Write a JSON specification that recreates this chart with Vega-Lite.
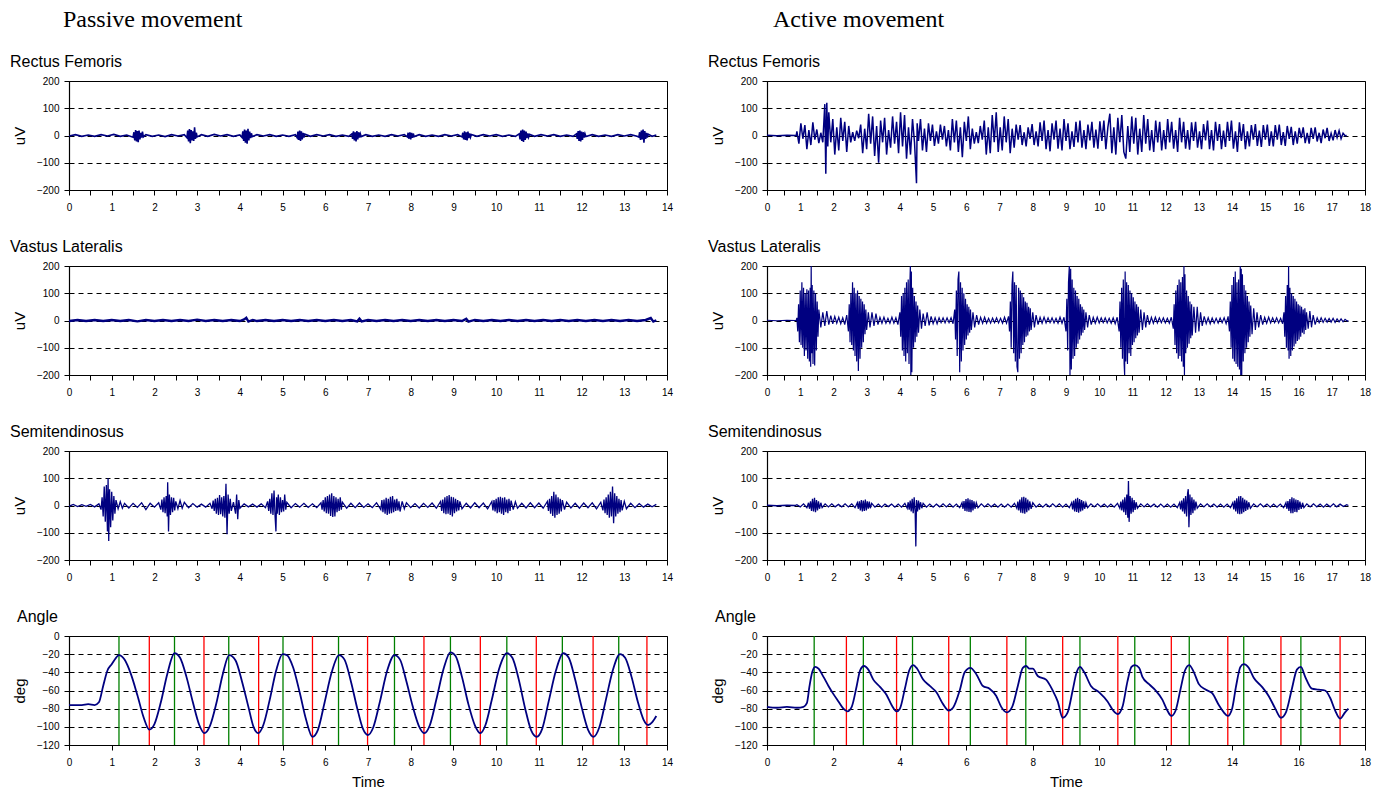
{
"$schema":"https://vega.github.io/schema/vega-lite/v6.json",
"padding":{"left":9,"top":7,"right":5,"bottom":0},
"background":"#ffffff",
"config":{
"font":"Liberation Sans",
"view":{"stroke":"#000000","strokeWidth":1},
"axis":{"domainColor":"#000000","domainWidth":1.2,"tickColor":"#000000","tickSize":5,"tickWidth":1,"labelColor":"#000000","labelFont":"Liberation Sans","labelFontSize":10,"titleFont":"Liberation Sans","titleFontSize":15,"titleFontWeight":"normal","titleColor":"#000000","gridColor":"#000000","gridDash":[5,4],"gridOpacity":1,"gridWidth":1},
"axisX":{"grid":false,"labelPadding":7,"labelFlush":false,"labelOverlap":false,"titlePadding":7},
"axisY":{"labelPadding":5,"titlePadding":9}
},
"spacing":33,
"hconcat":[
{"title":{"text":"Passive movement","anchor":"start","frame":"group","font":"Liberation Serif","fontSize":24,"fontWeight":"normal","color":"#000000","dx":-6,"offset":22},
"spacing":25,
"vconcat":[
{"title":{"text":"Rectus Femoris","anchor":"start","frame":"group","dx":-59,"fontSize":16,"font":"Liberation Sans","fontWeight":"normal","baseline":"alphabetic","offset":-7,"color":"#000000"},
"width":598,"height":109,
"data":{"values":[{"t":0,"v":-2},{"t":0.15,"v":3},{"t":0.3,"v":-3},{"t":0.45,"v":2},{"t":0.6,"v":-3},{"t":0.75,"v":3},{"t":0.9,"v":-2},{"t":1.05,"v":4},{"t":1.2,"v":-3},{"t":1.35,"v":2},
{"t":1.5,"v":-6},{"t":1.52,"v":12},{"t":1.54,"v":-18},{"t":1.56,"v":20},{"t":1.58,"v":-22},{"t":1.6,"v":16},{"t":1.62,"v":-25},{"t":1.64,"v":18},{"t":1.66,"v":-14},{"t":1.68,"v":10},{"t":1.7,"v":-8},{"t":1.72,"v":14},{"t":1.74,"v":-5},
{"t":1.8,"v":3},{"t":1.95,"v":-3},{"t":2.1,"v":2},{"t":2.25,"v":-4},{"t":2.4,"v":3},{"t":2.55,"v":-2},{"t":2.7,"v":3},
{"t":2.76,"v":-8},{"t":2.78,"v":18},{"t":2.8,"v":-22},{"t":2.82,"v":24},{"t":2.84,"v":-28},{"t":2.86,"v":20},{"t":2.88,"v":-18},{"t":2.9,"v":15},{"t":2.92,"v":-20},{"t":2.94,"v":30},{"t":2.96,"v":-12},{"t":2.98,"v":10},{"t":3.0,"v":-5},
{"t":3.1,"v":3},{"t":3.25,"v":-3},{"t":3.4,"v":4},{"t":3.55,"v":-2},{"t":3.7,"v":3},{"t":3.85,"v":-3},{"t":4.0,"v":2},
{"t":4.05,"v":-7},{"t":4.07,"v":15},{"t":4.09,"v":-20},{"t":4.11,"v":22},{"t":4.13,"v":-26},{"t":4.15,"v":18},{"t":4.17,"v":-30},{"t":4.19,"v":25},{"t":4.21,"v":-18},{"t":4.23,"v":14},{"t":4.25,"v":-10},{"t":4.27,"v":8},{"t":4.29,"v":-4},
{"t":4.4,"v":3},{"t":4.55,"v":-2},{"t":4.7,"v":3},{"t":4.85,"v":-3},{"t":5.0,"v":2},{"t":5.15,"v":-3},{"t":5.3,"v":3},
{"t":5.34,"v":-8},{"t":5.36,"v":14},{"t":5.38,"v":-16},{"t":5.4,"v":18},{"t":5.42,"v":-20},{"t":5.44,"v":15},{"t":5.46,"v":-14},{"t":5.48,"v":10},{"t":5.5,"v":-8},{"t":5.52,"v":5},
{"t":5.65,"v":-3},{"t":5.8,"v":3},{"t":5.95,"v":-2},{"t":6.1,"v":3},{"t":6.25,"v":-3},{"t":6.4,"v":2},{"t":6.55,"v":-3},
{"t":6.62,"v":6},{"t":6.64,"v":-12},{"t":6.66,"v":15},{"t":6.68,"v":-18},{"t":6.7,"v":12},{"t":6.72,"v":-22},{"t":6.74,"v":16},{"t":6.76,"v":-14},{"t":6.78,"v":12},{"t":6.8,"v":-8},{"t":6.82,"v":6},{"t":6.84,"v":-4},
{"t":6.95,"v":3},{"t":7.1,"v":-3},{"t":7.25,"v":2},{"t":7.4,"v":-3},{"t":7.55,"v":3},{"t":7.7,"v":-2},{"t":7.85,"v":3},
{"t":7.92,"v":-5},{"t":7.94,"v":10},{"t":7.96,"v":-12},{"t":7.98,"v":12},{"t":8.0,"v":-14},{"t":8.02,"v":10},{"t":8.04,"v":-9},{"t":8.06,"v":7},{"t":8.08,"v":-4},
{"t":8.2,"v":3},{"t":8.35,"v":-3},{"t":8.5,"v":2},{"t":8.65,"v":-3},{"t":8.8,"v":3},{"t":8.95,"v":-2},{"t":9.1,"v":3},
{"t":9.2,"v":-5},{"t":9.22,"v":10},{"t":9.24,"v":-14},{"t":9.26,"v":15},{"t":9.28,"v":-16},{"t":9.3,"v":12},{"t":9.32,"v":-18},{"t":9.34,"v":14},{"t":9.36,"v":-10},{"t":9.38,"v":8},{"t":9.4,"v":-6},{"t":9.42,"v":4},
{"t":9.55,"v":-3},{"t":9.7,"v":3},{"t":9.85,"v":-2},{"t":10.0,"v":3},{"t":10.15,"v":-3},{"t":10.3,"v":2},{"t":10.45,"v":-3},
{"t":10.54,"v":6},{"t":10.56,"v":-14},{"t":10.58,"v":18},{"t":10.6,"v":-20},{"t":10.62,"v":22},{"t":10.64,"v":-24},{"t":10.66,"v":18},{"t":10.68,"v":-16},{"t":10.7,"v":14},{"t":10.72,"v":-10},{"t":10.74,"v":8},{"t":10.76,"v":-6},{"t":10.78,"v":4},
{"t":10.9,"v":-3},{"t":11.05,"v":3},{"t":11.2,"v":-2},{"t":11.35,"v":3},{"t":11.5,"v":-3},{"t":11.65,"v":2},{"t":11.8,"v":-3},
{"t":11.88,"v":6},{"t":11.9,"v":-12},{"t":11.92,"v":16},{"t":11.94,"v":-20},{"t":11.96,"v":18},{"t":11.98,"v":-22},{"t":12.0,"v":14},{"t":12.02,"v":-16},{"t":12.04,"v":12},{"t":12.06,"v":-8},{"t":12.08,"v":6},{"t":12.1,"v":-4},
{"t":12.25,"v":3},{"t":12.4,"v":-3},{"t":12.55,"v":2},{"t":12.7,"v":-3},{"t":12.85,"v":3},{"t":13.0,"v":-2},{"t":13.15,"v":3},{"t":13.3,"v":-3},
{"t":13.34,"v":-6},{"t":13.36,"v":12},{"t":13.38,"v":-16},{"t":13.4,"v":18},{"t":13.42,"v":-14},{"t":13.44,"v":22},{"t":13.46,"v":-26},{"t":13.48,"v":16},{"t":13.5,"v":-12},{"t":13.52,"v":10},{"t":13.54,"v":-8},{"t":13.56,"v":5},
{"t":13.65,"v":-3},{"t":13.75,"v":2}]},
"mark":{"type":"line","color":"#000080","strokeWidth":1.6,"clip":true},
"encoding":{"x":{"field":"t","type":"quantitative","scale":{"domain":[0,14],"nice":false},"axis":{"title":null,"values":[0,0.5,1,1.5,2,2.5,3,3.5,4,4.5,5,5.5,6,6.5,7,7.5,8,8.5,9,9.5,10,10.5,11,11.5,12,12.5,13,13.5,14],"labelExpr":"datum.value % 1 === 0 ? format(datum.value, 'd') : ''"}},
"y":{"field":"v","type":"quantitative","scale":{"domain":[-200,200],"nice":false},"axis":{"title":"uV","values":[-200,-100,0,100,200]}}}},
{"title":{"text":"Vastus Lateralis","anchor":"start","frame":"group","dx":-59,"fontSize":16,"font":"Liberation Sans","fontWeight":"normal","baseline":"alphabetic","offset":-7,"color":"#000000"},
"width":598,"height":109,
"data":{"values":[{"t":0,"v":-2},{"t":0.2,"v":2},{"t":0.4,"v":-2},{"t":0.6,"v":2},{"t":0.8,"v":-2},{"t":1.0,"v":2},{"t":1.2,"v":-2},{"t":1.4,"v":2},{"t":1.6,"v":-3},{"t":1.8,"v":2},{"t":2.0,"v":-2},{"t":2.2,"v":2},{"t":2.4,"v":-2},{"t":2.6,"v":2},{"t":2.8,"v":-2},{"t":3.0,"v":3},{"t":3.2,"v":-2},{"t":3.4,"v":2},{"t":3.6,"v":-2},{"t":3.8,"v":2},{"t":4.0,"v":-2},{"t":4.1,"v":4},{"t":4.15,"v":10},{"t":4.2,"v":-4},{"t":4.3,"v":2},{"t":4.4,"v":-2},{"t":4.6,"v":2},{"t":4.8,"v":-2},{"t":5.0,"v":2},{"t":5.2,"v":-2},{"t":5.4,"v":2},{"t":5.6,"v":-2},{"t":5.8,"v":2},{"t":6.0,"v":-2},{"t":6.2,"v":2},{"t":6.4,"v":-2},{"t":6.6,"v":2},{"t":6.75,"v":-3},{"t":6.8,"v":7},{"t":6.85,"v":-3},{"t":7.0,"v":2},{"t":7.2,"v":-2},{"t":7.4,"v":2},{"t":7.6,"v":-2},{"t":7.8,"v":2},{"t":8.0,"v":-2},{"t":8.2,"v":2},{"t":8.4,"v":-2},{"t":8.6,"v":2},{"t":8.8,"v":-2},{"t":9.0,"v":2},{"t":9.2,"v":-2},{"t":9.3,"v":6},{"t":9.35,"v":-4},{"t":9.5,"v":2},{"t":9.7,"v":-2},{"t":9.9,"v":2},{"t":10.1,"v":-2},{"t":10.3,"v":2},{"t":10.5,"v":-2},{"t":10.7,"v":2},{"t":10.9,"v":-2},{"t":11.1,"v":2},{"t":11.3,"v":-2},{"t":11.5,"v":2},{"t":11.7,"v":-2},{"t":11.9,"v":2},{"t":12.1,"v":-2},{"t":12.3,"v":2},{"t":12.5,"v":-2},{"t":12.7,"v":2},{"t":12.9,"v":-2},{"t":13.1,"v":2},{"t":13.3,"v":-2},{"t":13.5,"v":2},{"t":13.62,"v":9},{"t":13.68,"v":-4},{"t":13.75,"v":1}]},
"mark":{"type":"line","color":"#000080","strokeWidth":2.4,"clip":true},
"encoding":{"x":{"field":"t","type":"quantitative","scale":{"domain":[0,14],"nice":false},"axis":{"title":null,"values":[0,0.5,1,1.5,2,2.5,3,3.5,4,4.5,5,5.5,6,6.5,7,7.5,8,8.5,9,9.5,10,10.5,11,11.5,12,12.5,13,13.5,14],"labelExpr":"datum.value % 1 === 0 ? format(datum.value, 'd') : ''"}},
"y":{"field":"v","type":"quantitative","scale":{"domain":[-200,200],"nice":false},"axis":{"title":"uV","values":[-200,-100,0,100,200]}}}},
{"title":{"text":"Semitendinosus","anchor":"start","frame":"group","dx":-59,"fontSize":16,"font":"Liberation Sans","fontWeight":"normal","baseline":"alphabetic","offset":-7,"color":"#000000"},
"width":598,"height":109,
"data":{"values":[{"t":0,"v":-3},{"t":0.1,"v":4},{"t":0.2,"v":-4},{"t":0.3,"v":3},{"t":0.4,"v":-3},{"t":0.5,"v":4},{"t":0.6,"v":-5},{"t":0.7,"v":6},
{"t":0.75,"v":-15},{"t":0.775,"v":30},{"t":0.8,"v":-40},{"t":0.825,"v":70},{"t":0.85,"v":-60},{"t":0.875,"v":75},{"t":0.9,"v":-95},{"t":0.915,"v":100},{"t":0.93,"v":-130},{"t":0.95,"v":60},{"t":0.975,"v":-80},{"t":1.0,"v":50},{"t":1.025,"v":-55},{"t":1.05,"v":35},{"t":1.075,"v":-30},{"t":1.1,"v":20},
{"t":1.15,"v":-12},{"t":1.2,"v":14},{"t":1.25,"v":-10},{"t":1.3,"v":8},{"t":1.4,"v":-9},{"t":1.5,"v":8},{"t":1.6,"v":-7},{"t":1.7,"v":10},{"t":1.8,"v":-15},{"t":1.9,"v":8},{"t":2.0,"v":-6},{"t":2.1,"v":10},
{"t":2.15,"v":-15},{"t":2.175,"v":22},{"t":2.2,"v":-25},{"t":2.225,"v":30},{"t":2.25,"v":-28},{"t":2.275,"v":35},{"t":2.3,"v":-40},{"t":2.31,"v":85},{"t":2.33,"v":-95},{"t":2.35,"v":40},{"t":2.375,"v":-35},{"t":2.4,"v":30},{"t":2.425,"v":-25},{"t":2.45,"v":28},{"t":2.475,"v":-18},{"t":2.5,"v":15},
{"t":2.55,"v":-12},{"t":2.6,"v":18},{"t":2.65,"v":-10},{"t":2.7,"v":12},{"t":2.8,"v":-8},{"t":2.9,"v":7},{"t":3.0,"v":-6},{"t":3.1,"v":5},{"t":3.2,"v":-6},{"t":3.3,"v":8},
{"t":3.35,"v":-12},{"t":3.375,"v":18},{"t":3.4,"v":-20},{"t":3.425,"v":25},{"t":3.45,"v":-30},{"t":3.475,"v":28},{"t":3.5,"v":-35},{"t":3.525,"v":38},{"t":3.55,"v":-32},{"t":3.575,"v":30},{"t":3.6,"v":-40},{"t":3.625,"v":35},{"t":3.65,"v":-45},{"t":3.675,"v":80},{"t":3.7,"v":-105},{"t":3.725,"v":40},{"t":3.75,"v":-30},{"t":3.775,"v":25},{"t":3.8,"v":-20},
{"t":3.85,"v":12},{"t":3.9,"v":-30},{"t":3.925,"v":40},{"t":3.95,"v":-50},{"t":3.975,"v":20},{"t":4.0,"v":-10},{"t":4.1,"v":6},{"t":4.2,"v":-5},{"t":4.3,"v":5},{"t":4.4,"v":-6},{"t":4.5,"v":6},{"t":4.6,"v":-8},
{"t":4.65,"v":15},{"t":4.675,"v":-20},{"t":4.7,"v":25},{"t":4.725,"v":-30},{"t":4.75,"v":45},{"t":4.775,"v":-35},{"t":4.8,"v":55},{"t":4.825,"v":-40},{"t":4.845,"v":-95},{"t":4.86,"v":30},{"t":4.875,"v":-30},{"t":4.9,"v":40},{"t":4.925,"v":-35},{"t":4.95,"v":30},{"t":4.975,"v":-25},{"t":5.0,"v":20},{"t":5.025,"v":-22},{"t":5.05,"v":40},{"t":5.075,"v":-15},{"t":5.1,"v":12},
{"t":5.2,"v":-8},{"t":5.3,"v":7},{"t":5.4,"v":-6},{"t":5.5,"v":8},{"t":5.6,"v":-7},{"t":5.7,"v":6},{"t":5.8,"v":-8},
{"t":5.9,"v":10},{"t":5.925,"v":-15},{"t":5.95,"v":20},{"t":5.975,"v":-22},{"t":6.0,"v":30},{"t":6.025,"v":-28},{"t":6.05,"v":35},{"t":6.075,"v":-30},{"t":6.1,"v":40},{"t":6.125,"v":-38},{"t":6.15,"v":45},{"t":6.175,"v":-42},{"t":6.2,"v":35},{"t":6.225,"v":-40},{"t":6.25,"v":30},{"t":6.275,"v":-25},{"t":6.3,"v":25},{"t":6.325,"v":-20},{"t":6.35,"v":30},{"t":6.375,"v":-15},{"t":6.4,"v":12},
{"t":6.5,"v":-10},{"t":6.6,"v":8},{"t":6.7,"v":-8},{"t":6.8,"v":9},{"t":6.9,"v":-7},{"t":7.0,"v":6},{"t":7.1,"v":-8},{"t":7.2,"v":10},
{"t":7.3,"v":-15},{"t":7.325,"v":20},{"t":7.35,"v":-25},{"t":7.375,"v":22},{"t":7.4,"v":-30},{"t":7.425,"v":28},{"t":7.45,"v":-35},{"t":7.475,"v":25},{"t":7.5,"v":-30},{"t":7.525,"v":32},{"t":7.55,"v":-28},{"t":7.575,"v":35},{"t":7.6,"v":-25},{"t":7.625,"v":22},{"t":7.65,"v":-20},{"t":7.675,"v":25},{"t":7.7,"v":-18},{"t":7.725,"v":15},{"t":7.75,"v":-22},{"t":7.8,"v":15},{"t":7.85,"v":-12},{"t":7.9,"v":10},
{"t":8.0,"v":-8},{"t":8.1,"v":7},{"t":8.2,"v":-9},{"t":8.3,"v":8},{"t":8.4,"v":-7},{"t":8.5,"v":9},{"t":8.6,"v":-10},
{"t":8.7,"v":15},{"t":8.725,"v":-20},{"t":8.75,"v":22},{"t":8.775,"v":-28},{"t":8.8,"v":30},{"t":8.825,"v":-32},{"t":8.85,"v":35},{"t":8.875,"v":-30},{"t":8.9,"v":38},{"t":8.925,"v":-35},{"t":8.95,"v":32},{"t":8.975,"v":-40},{"t":9.0,"v":30},{"t":9.025,"v":-28},{"t":9.05,"v":25},{"t":9.075,"v":-22},{"t":9.1,"v":20},{"t":9.125,"v":-18},{"t":9.15,"v":15},{"t":9.2,"v":-12},
{"t":9.3,"v":8},{"t":9.4,"v":-9},{"t":9.5,"v":10},{"t":9.6,"v":-8},{"t":9.7,"v":9},{"t":9.8,"v":-12},
{"t":9.9,"v":15},{"t":9.925,"v":-18},{"t":9.95,"v":20},{"t":9.975,"v":-22},{"t":10.0,"v":25},{"t":10.025,"v":-28},{"t":10.05,"v":30},{"t":10.075,"v":-25},{"t":10.1,"v":32},{"t":10.125,"v":-30},{"t":10.15,"v":28},{"t":10.175,"v":-35},{"t":10.2,"v":30},{"t":10.225,"v":-25},{"t":10.25,"v":22},{"t":10.275,"v":-28},{"t":10.3,"v":25},{"t":10.325,"v":-20},{"t":10.35,"v":18},{"t":10.4,"v":-15},{"t":10.45,"v":14},{"t":10.5,"v":-10},
{"t":10.6,"v":8},{"t":10.7,"v":-9},{"t":10.8,"v":10},{"t":10.9,"v":-8},{"t":11.0,"v":9},{"t":11.1,"v":-10},
{"t":11.2,"v":15},{"t":11.225,"v":-20},{"t":11.25,"v":25},{"t":11.275,"v":-30},{"t":11.3,"v":35},{"t":11.325,"v":-38},{"t":11.35,"v":50},{"t":11.375,"v":-45},{"t":11.4,"v":40},{"t":11.425,"v":-35},{"t":11.45,"v":30},{"t":11.475,"v":-30},{"t":11.5,"v":25},{"t":11.525,"v":-22},{"t":11.55,"v":20},{"t":11.6,"v":-15},{"t":11.65,"v":12},
{"t":11.75,"v":-9},{"t":11.85,"v":8},{"t":11.95,"v":-10},{"t":12.05,"v":9},{"t":12.15,"v":-8},{"t":12.25,"v":10},{"t":12.35,"v":-12},{"t":12.45,"v":12},
{"t":12.5,"v":-18},{"t":12.525,"v":22},{"t":12.55,"v":-28},{"t":12.575,"v":30},{"t":12.6,"v":-35},{"t":12.625,"v":40},{"t":12.65,"v":-45},{"t":12.675,"v":50},{"t":12.7,"v":-40},{"t":12.725,"v":70},{"t":12.75,"v":-65},{"t":12.775,"v":45},{"t":12.8,"v":-40},{"t":12.825,"v":35},{"t":12.85,"v":-30},{"t":12.875,"v":25},{"t":12.9,"v":-25},{"t":12.925,"v":20},{"t":12.95,"v":-18},{"t":13.0,"v":15},{"t":13.05,"v":-12},
{"t":13.15,"v":8},{"t":13.25,"v":-8},{"t":13.35,"v":7},{"t":13.45,"v":-6},{"t":13.55,"v":5},{"t":13.65,"v":-5},{"t":13.75,"v":4}]},
"mark":{"type":"line","color":"#000080","strokeWidth":1.3,"clip":true},
"encoding":{"x":{"field":"t","type":"quantitative","scale":{"domain":[0,14],"nice":false},"axis":{"title":null,"values":[0,0.5,1,1.5,2,2.5,3,3.5,4,4.5,5,5.5,6,6.5,7,7.5,8,8.5,9,9.5,10,10.5,11,11.5,12,12.5,13,13.5,14],"labelExpr":"datum.value % 1 === 0 ? format(datum.value, 'd') : ''"}},
"y":{"field":"v","type":"quantitative","scale":{"domain":[-200,200],"nice":false},"axis":{"title":"uV","values":[-200,-100,0,100,200]}}}},
{"title":{"text":"Angle","anchor":"start","frame":"group","dx":-52,"fontSize":16,"font":"Liberation Sans","fontWeight":"normal","baseline":"alphabetic","offset":-7,"color":"#000000"},
"width":598,"height":109,
"layer":[
{"data":{"values":[{"t":1.17,"k":"peak"},{"t":2.47,"k":"peak"},{"t":3.74,"k":"peak"},{"t":5.01,"k":"peak"},{"t":6.31,"k":"peak"},{"t":7.62,"k":"peak"},{"t":8.93,"k":"peak"},{"t":10.25,"k":"peak"},{"t":11.55,"k":"peak"},{"t":12.87,"k":"peak"},{"t":1.88,"k":"trough"},{"t":3.16,"k":"trough"},{"t":4.44,"k":"trough"},{"t":5.7,"k":"trough"},{"t":6.99,"k":"trough"},{"t":8.31,"k":"trough"},{"t":9.63,"k":"trough"},{"t":10.94,"k":"trough"},{"t":12.27,"k":"trough"},{"t":13.53,"k":"trough"}]},
"mark":{"type":"rule","strokeWidth":1.3},
"encoding":{"x":{"field":"t","type":"quantitative","scale":{"domain":[0,14],"nice":false}},"color":{"field":"k","type":"nominal","scale":{"domain":["peak","trough"],"range":["#008000","#ff0000"]},"legend":null}}},
{"data":{"values":[{"t":0,"a":-76},{"t":0.3,"a":-76},{"t":0.45,"a":-75},{"t":0.6,"a":-76},{"t":0.7,"a":-73},{"t":0.8,"a":-55},{"t":0.9,"a":-38},{"t":1.0,"a":-31},{"t":1.1,"a":-24},{"t":1.17,"a":-21},{"t":1.3,"a":-26},{"t":1.45,"a":-42},{"t":1.6,"a":-65},{"t":1.75,"a":-90},{"t":1.88,"a":-103},{"t":2.0,"a":-97},{"t":2.15,"a":-73},{"t":2.3,"a":-42},{"t":2.47,"a":-19},{"t":2.6,"a":-24},{"t":2.75,"a":-45},{"t":2.9,"a":-73},{"t":3.05,"a":-98},{"t":3.17,"a":-107},{"t":3.3,"a":-99},{"t":3.45,"a":-74},{"t":3.6,"a":-42},{"t":3.75,"a":-21},{"t":3.9,"a":-27},{"t":4.05,"a":-50},{"t":4.2,"a":-78},{"t":4.32,"a":-100},{"t":4.43,"a":-107},{"t":4.55,"a":-98},{"t":4.7,"a":-70},{"t":4.85,"a":-38},{"t":5.0,"a":-20},{"t":5.1,"a":-21},{"t":5.25,"a":-35},{"t":5.4,"a":-62},{"t":5.55,"a":-92},{"t":5.7,"a":-111},{"t":5.83,"a":-103},{"t":5.98,"a":-74},{"t":6.15,"a":-40},{"t":6.32,"a":-21},{"t":6.45,"a":-26},{"t":6.6,"a":-50},{"t":6.75,"a":-80},{"t":6.88,"a":-102},{"t":7.0,"a":-109},{"t":7.12,"a":-101},{"t":7.28,"a":-72},{"t":7.45,"a":-38},{"t":7.62,"a":-21},{"t":7.75,"a":-26},{"t":7.9,"a":-50},{"t":8.05,"a":-78},{"t":8.2,"a":-100},{"t":8.32,"a":-107},{"t":8.45,"a":-98},{"t":8.6,"a":-70},{"t":8.77,"a":-36},{"t":8.93,"a":-18},{"t":9.05,"a":-22},{"t":9.2,"a":-45},{"t":9.35,"a":-75},{"t":9.5,"a":-98},{"t":9.63,"a":-107},{"t":9.75,"a":-98},{"t":9.9,"a":-70},{"t":10.07,"a":-36},{"t":10.25,"a":-19},{"t":10.38,"a":-24},{"t":10.53,"a":-48},{"t":10.68,"a":-80},{"t":10.82,"a":-104},{"t":10.95,"a":-111},{"t":11.08,"a":-102},{"t":11.23,"a":-72},{"t":11.4,"a":-38},{"t":11.57,"a":-19},{"t":11.7,"a":-24},{"t":11.85,"a":-48},{"t":12.0,"a":-78},{"t":12.15,"a":-103},{"t":12.28,"a":-111},{"t":12.42,"a":-100},{"t":12.57,"a":-70},{"t":12.73,"a":-38},{"t":12.9,"a":-20},{"t":13.02,"a":-24},{"t":13.17,"a":-45},{"t":13.32,"a":-73},{"t":13.45,"a":-92},{"t":13.56,"a":-98},{"t":13.65,"a":-95},{"t":13.75,"a":-88}]},
"mark":{"type":"line","color":"#000080","strokeWidth":1.8,"interpolate":"monotone"},
"encoding":{"x":{"field":"t","type":"quantitative","scale":{"domain":[0,14],"nice":false},"axis":{"title":"Time","values":[0,0.5,1,1.5,2,2.5,3,3.5,4,4.5,5,5.5,6,6.5,7,7.5,8,8.5,9,9.5,10,10.5,11,11.5,12,12.5,13,13.5,14],"labelExpr":"datum.value % 1 === 0 ? format(datum.value, 'd') : ''"}},
"y":{"field":"a","type":"quantitative","scale":{"domain":[-120,0],"nice":false},"axis":{"title":"deg","values":[-120,-100,-80,-60,-40,-20,0]}}}}
]}
]},
{"title":{"text":"Active movement","anchor":"start","frame":"group","font":"Liberation Serif","fontSize":24,"fontWeight":"normal","color":"#000000","dx":6,"offset":22},
"spacing":25,
"vconcat":[
{"title":{"text":"Rectus Femoris","anchor":"start","frame":"group","dx":-59,"fontSize":16,"font":"Liberation Sans","fontWeight":"normal","baseline":"alphabetic","offset":-7,"color":"#000000"},
"width":598,"height":109,
"data":{"values":[{"t":0,"v":1},{"t":0.3,"v":-1},{"t":0.6,"v":1},{"t":0.88,"v":0},
{"t":0.9,"v":15},{"t":0.96,"v":-30},{"t":1.02,"v":45},{"t":1.08,"v":-12},{"t":1.14,"v":38},{"t":1.2,"v":-50},{"t":1.26,"v":20},{"t":1.32,"v":-35},{"t":1.38,"v":48},{"t":1.44,"v":-15},{"t":1.5,"v":22},{"t":1.56,"v":-28},{"t":1.62,"v":10},{"t":1.68,"v":-25},{"t":1.74,"v":115},{"t":1.77,"v":-140},{"t":1.8,"v":120},{"t":1.83,"v":-40},{"t":1.86,"v":85},{"t":1.92,"v":-25},{"t":1.98,"v":60},{"t":2.04,"v":-70},{"t":2.1,"v":30},{"t":2.16,"v":-55},{"t":2.22,"v":65},{"t":2.28,"v":-20},{"t":2.34,"v":50},{"t":2.4,"v":-60},{"t":2.46,"v":35},{"t":2.52,"v":-25},{"t":2.58,"v":12},{"t":2.64,"v":-20},{"t":2.7,"v":18},{"t":2.76,"v":-10},{"t":2.82,"v":40},{"t":2.88,"v":-65},{"t":2.94,"v":25},{"t":3.0,"v":-50},{"t":3.06,"v":80},{"t":3.12,"v":-30},{"t":3.18,"v":70},{"t":3.24,"v":-75},{"t":3.3,"v":35},{"t":3.36,"v":-100},{"t":3.42,"v":55},{"t":3.48,"v":-25},{"t":3.54,"v":65},{"t":3.6,"v":-70},{"t":3.66,"v":20},{"t":3.72,"v":-45},{"t":3.78,"v":70},{"t":3.84,"v":-30},{"t":3.9,"v":50},{"t":3.96,"v":-65},{"t":4.02,"v":85},{"t":4.08,"v":-40},{"t":4.14,"v":75},{"t":4.2,"v":-85},{"t":4.26,"v":30},{"t":4.32,"v":-70},{"t":4.38,"v":60},{"t":4.44,"v":-25},{"t":4.5,"v":-175},{"t":4.52,"v":45},{"t":4.56,"v":-20},{"t":4.62,"v":60},{"t":4.68,"v":-55},{"t":4.74,"v":25},{"t":4.8,"v":-60},{"t":4.86,"v":45},{"t":4.92,"v":-20},{"t":4.98,"v":40},{"t":5.04,"v":-38},{"t":5.1,"v":15},{"t":5.16,"v":-30},{"t":5.22,"v":40},{"t":5.28,"v":-15},{"t":5.34,"v":35},{"t":5.4,"v":-40},{"t":5.46,"v":20},{"t":5.52,"v":-55},{"t":5.58,"v":60},{"t":5.64,"v":-25},{"t":5.7,"v":55},{"t":5.76,"v":-60},{"t":5.82,"v":30},{"t":5.88,"v":-80},{"t":5.94,"v":50},{"t":6.0,"v":-20},{"t":6.06,"v":70},{"t":6.12,"v":-50},{"t":6.18,"v":25},{"t":6.24,"v":-30},{"t":6.3,"v":12},{"t":6.36,"v":-28},{"t":6.42,"v":35},{"t":6.48,"v":-15},{"t":6.54,"v":55},{"t":6.6,"v":-70},{"t":6.66,"v":30},{"t":6.72,"v":-65},{"t":6.78,"v":75},{"t":6.84,"v":-25},{"t":6.9,"v":85},{"t":6.96,"v":-60},{"t":7.02,"v":30},{"t":7.08,"v":-55},{"t":7.14,"v":70},{"t":7.2,"v":-25},{"t":7.26,"v":60},{"t":7.32,"v":-65},{"t":7.38,"v":25},{"t":7.44,"v":-45},{"t":7.5,"v":40},{"t":7.56,"v":-15},{"t":7.62,"v":38},{"t":7.68,"v":-35},{"t":7.74,"v":12},{"t":7.8,"v":-40},{"t":7.86,"v":30},{"t":7.92,"v":-12},{"t":7.98,"v":42},{"t":8.04,"v":-35},{"t":8.1,"v":15},{"t":8.16,"v":-40},{"t":8.22,"v":48},{"t":8.28,"v":-20},{"t":8.34,"v":55},{"t":8.4,"v":-50},{"t":8.46,"v":20},{"t":8.52,"v":-58},{"t":8.58,"v":45},{"t":8.64,"v":-15},{"t":8.7,"v":55},{"t":8.76,"v":-48},{"t":8.82,"v":25},{"t":8.88,"v":-55},{"t":8.94,"v":60},{"t":9.0,"v":-20},{"t":9.06,"v":45},{"t":9.12,"v":-50},{"t":9.18,"v":15},{"t":9.24,"v":-42},{"t":9.3,"v":50},{"t":9.36,"v":-25},{"t":9.42,"v":55},{"t":9.48,"v":-45},{"t":9.54,"v":20},{"t":9.6,"v":-50},{"t":9.66,"v":40},{"t":9.72,"v":-18},{"t":9.78,"v":50},{"t":9.84,"v":-45},{"t":9.9,"v":22},{"t":9.96,"v":-48},{"t":10.02,"v":52},{"t":10.08,"v":-20},{"t":10.14,"v":55},{"t":10.2,"v":-50},{"t":10.26,"v":30},{"t":10.32,"v":80},{"t":10.38,"v":-65},{"t":10.44,"v":30},{"t":10.5,"v":-70},{"t":10.56,"v":65},{"t":10.62,"v":-25},{"t":10.68,"v":75},{"t":10.74,"v":-60},{"t":10.8,"v":-85},{"t":10.86,"v":35},{"t":10.92,"v":-60},{"t":10.98,"v":70},{"t":11.04,"v":-30},{"t":11.1,"v":65},{"t":11.16,"v":-70},{"t":11.22,"v":25},{"t":11.28,"v":-60},{"t":11.34,"v":75},{"t":11.4,"v":-30},{"t":11.46,"v":60},{"t":11.52,"v":-55},{"t":11.58,"v":20},{"t":11.64,"v":-60},{"t":11.7,"v":55},{"t":11.76,"v":-25},{"t":11.82,"v":50},{"t":11.88,"v":-55},{"t":11.94,"v":20},{"t":12.0,"v":-50},{"t":12.06,"v":60},{"t":12.12,"v":-25},{"t":12.18,"v":50},{"t":12.24,"v":-48},{"t":12.3,"v":20},{"t":12.36,"v":-60},{"t":12.42,"v":65},{"t":12.48,"v":-25},{"t":12.54,"v":50},{"t":12.6,"v":-48},{"t":12.66,"v":20},{"t":12.72,"v":-52},{"t":12.78,"v":48},{"t":12.84,"v":-20},{"t":12.9,"v":50},{"t":12.96,"v":-45},{"t":13.02,"v":15},{"t":13.08,"v":-50},{"t":13.14,"v":42},{"t":13.2,"v":-18},{"t":13.26,"v":55},{"t":13.32,"v":-50},{"t":13.38,"v":20},{"t":13.44,"v":-55},{"t":13.5,"v":50},{"t":13.56,"v":-20},{"t":13.62,"v":42},{"t":13.68,"v":-50},{"t":13.74,"v":18},{"t":13.8,"v":-42},{"t":13.86,"v":50},{"t":13.92,"v":-20},{"t":13.98,"v":55},{"t":14.04,"v":-48},{"t":14.1,"v":15},{"t":14.16,"v":-60},{"t":14.22,"v":48},{"t":14.28,"v":-20},{"t":14.34,"v":42},{"t":14.4,"v":-50},{"t":14.46,"v":15},{"t":14.52,"v":-40},{"t":14.58,"v":38},{"t":14.64,"v":-15},{"t":14.7,"v":42},{"t":14.76,"v":-38},{"t":14.82,"v":18},{"t":14.88,"v":-42},{"t":14.94,"v":38},{"t":15.0,"v":-15},{"t":15.06,"v":40},{"t":15.12,"v":-38},{"t":15.18,"v":15},{"t":15.24,"v":-40},{"t":15.3,"v":38},{"t":15.36,"v":-15},{"t":15.42,"v":40},{"t":15.48,"v":-35},{"t":15.54,"v":12},{"t":15.6,"v":-38},{"t":15.66,"v":35},{"t":15.72,"v":-12},{"t":15.78,"v":32},{"t":15.84,"v":-35},{"t":15.9,"v":15},{"t":15.96,"v":-30},{"t":16.02,"v":28},{"t":16.08,"v":-10},{"t":16.14,"v":30},{"t":16.2,"v":-28},{"t":16.26,"v":10},{"t":16.32,"v":-30},{"t":16.38,"v":28},{"t":16.44,"v":-12},{"t":16.5,"v":30},{"t":16.56,"v":-22},{"t":16.62,"v":10},{"t":16.68,"v":-28},{"t":16.74,"v":22},{"t":16.8,"v":-10},{"t":16.86,"v":28},{"t":16.92,"v":-20},{"t":16.98,"v":8},{"t":17.04,"v":-18},{"t":17.1,"v":20},{"t":17.16,"v":-8},{"t":17.22,"v":18},{"t":17.28,"v":-12},{"t":17.34,"v":8},{"t":17.4,"v":-1},{"t":17.45,"v":0}]},
"mark":{"type":"line","color":"#000080","strokeWidth":1.5,"clip":true},
"encoding":{"x":{"field":"t","type":"quantitative","scale":{"domain":[0,18],"nice":false},"axis":{"title":null,"values":[0,0.5,1,1.5,2,2.5,3,3.5,4,4.5,5,5.5,6,6.5,7,7.5,8,8.5,9,9.5,10,10.5,11,11.5,12,12.5,13,13.5,14,14.5,15,15.5,16,16.5,17,17.5,18],"labelExpr":"datum.value % 1 === 0 ? format(datum.value, 'd') : ''"}},
"y":{"field":"v","type":"quantitative","scale":{"domain":[-200,200],"nice":false},"axis":{"title":"uV","values":[-200,-100,0,100,200]}}}},
{"title":{"text":"Vastus Lateralis","anchor":"start","frame":"group","dx":-59,"fontSize":16,"font":"Liberation Sans","fontWeight":"normal","baseline":"alphabetic","offset":-7,"color":"#000000"},
"width":598,"height":109,
"data":{"values":[{"t":0,"v":1},{"t":0.3,"v":-1},{"t":0.6,"v":1},{"t":0.88,"v":0},
{"t":0.9,"v":10},{"t":0.925,"v":-40},{"t":0.95,"v":60},{"t":0.975,"v":-80},{"t":1.0,"v":110},{"t":1.025,"v":-90},{"t":1.05,"v":140},{"t":1.075,"v":-100},{"t":1.1,"v":120},{"t":1.125,"v":-130},{"t":1.15,"v":100},{"t":1.175,"v":-110},{"t":1.2,"v":115},{"t":1.225,"v":-140},{"t":1.25,"v":110},{"t":1.275,"v":-150},{"t":1.3,"v":120},{"t":1.315,"v":-170},{"t":1.33,"v":200},{"t":1.345,"v":-120},{"t":1.36,"v":130},{"t":1.385,"v":-160},{"t":1.41,"v":110},{"t":1.435,"v":-165},{"t":1.46,"v":100},{"t":1.485,"v":-110},{"t":1.51,"v":70},{"t":1.535,"v":-60},{"t":1.56,"v":40},
{"t":1.62,"v":-25},{"t":1.68,"v":30},{"t":1.74,"v":-20},{"t":1.8,"v":35},{"t":1.86,"v":-15},{"t":1.92,"v":18},{"t":1.98,"v":-12},{"t":2.04,"v":15},{"t":2.1,"v":-10},{"t":2.16,"v":12},{"t":2.22,"v":-12},{"t":2.28,"v":10},{"t":2.34,"v":-15},{"t":2.4,"v":20},
{"t":2.45,"v":-40},{"t":2.475,"v":60},{"t":2.5,"v":-80},{"t":2.525,"v":100},{"t":2.55,"v":-90},{"t":2.575,"v":140},{"t":2.6,"v":-110},{"t":2.625,"v":120},{"t":2.65,"v":-130},{"t":2.675,"v":100},{"t":2.7,"v":-150},{"t":2.725,"v":110},{"t":2.75,"v":-185},{"t":2.775,"v":90},{"t":2.8,"v":-140},{"t":2.825,"v":80},{"t":2.85,"v":-100},{"t":2.875,"v":70},{"t":2.9,"v":-80},{"t":2.925,"v":60},{"t":2.95,"v":-50},{"t":2.975,"v":40},{"t":3.0,"v":-35},{"t":3.05,"v":30},
{"t":3.1,"v":-25},{"t":3.16,"v":30},{"t":3.22,"v":-20},{"t":3.28,"v":25},{"t":3.34,"v":-15},{"t":3.4,"v":12},{"t":3.46,"v":-10},{"t":3.52,"v":12},{"t":3.58,"v":-10},{"t":3.64,"v":8},{"t":3.7,"v":-10},{"t":3.76,"v":12},{"t":3.82,"v":-10},{"t":3.88,"v":10},{"t":3.94,"v":-15},
{"t":4.0,"v":30},{"t":4.025,"v":-60},{"t":4.05,"v":90},{"t":4.075,"v":-110},{"t":4.1,"v":100},{"t":4.125,"v":-130},{"t":4.15,"v":120},{"t":4.175,"v":-150},{"t":4.2,"v":140},{"t":4.225,"v":-120},{"t":4.25,"v":150},{"t":4.275,"v":-160},{"t":4.3,"v":130},{"t":4.315,"v":200},{"t":4.33,"v":-200},{"t":4.345,"v":180},{"t":4.36,"v":-190},{"t":4.385,"v":120},{"t":4.41,"v":-100},{"t":4.435,"v":90},{"t":4.46,"v":-80},{"t":4.485,"v":70},{"t":4.51,"v":-60},{"t":4.535,"v":55},{"t":4.56,"v":-45},{"t":4.6,"v":40},{"t":4.65,"v":-30},
{"t":4.7,"v":25},{"t":4.76,"v":-20},{"t":4.82,"v":30},{"t":4.88,"v":-18},{"t":4.94,"v":15},{"t":5.0,"v":-12},{"t":5.06,"v":10},{"t":5.12,"v":-12},{"t":5.18,"v":10},{"t":5.24,"v":-8},{"t":5.3,"v":10},{"t":5.36,"v":-9},{"t":5.42,"v":10},{"t":5.48,"v":-8},{"t":5.54,"v":10},{"t":5.6,"v":-12},
{"t":5.65,"v":40},{"t":5.675,"v":-70},{"t":5.7,"v":110},{"t":5.725,"v":-130},{"t":5.75,"v":150},{"t":5.775,"v":180},{"t":5.8,"v":-190},{"t":5.825,"v":140},{"t":5.85,"v":-150},{"t":5.875,"v":120},{"t":5.9,"v":-110},{"t":5.925,"v":100},{"t":5.95,"v":-90},{"t":5.975,"v":80},{"t":6.0,"v":-70},{"t":6.025,"v":60},{"t":6.05,"v":-55},{"t":6.075,"v":50},{"t":6.1,"v":-45},{"t":6.125,"v":40},{"t":6.15,"v":-35},{"t":6.2,"v":30},{"t":6.25,"v":-25},
{"t":6.31,"v":20},{"t":6.37,"v":-15},{"t":6.43,"v":12},{"t":6.49,"v":-10},{"t":6.55,"v":12},{"t":6.61,"v":-10},{"t":6.67,"v":8},{"t":6.73,"v":-10},{"t":6.79,"v":9},{"t":6.85,"v":-8},{"t":6.91,"v":10},{"t":6.97,"v":-9},{"t":7.03,"v":8},{"t":7.09,"v":-10},{"t":7.15,"v":12},{"t":7.21,"v":-10},{"t":7.27,"v":15},
{"t":7.3,"v":-40},{"t":7.325,"v":70},{"t":7.35,"v":-100},{"t":7.375,"v":130},{"t":7.4,"v":180},{"t":7.425,"v":-120},{"t":7.45,"v":140},{"t":7.475,"v":-150},{"t":7.5,"v":130},{"t":7.525,"v":-170},{"t":7.55,"v":-190},{"t":7.575,"v":120},{"t":7.6,"v":-140},{"t":7.625,"v":110},{"t":7.65,"v":-120},{"t":7.675,"v":100},{"t":7.7,"v":-90},{"t":7.725,"v":85},{"t":7.75,"v":-80},{"t":7.775,"v":70},{"t":7.8,"v":-60},{"t":7.825,"v":65},{"t":7.85,"v":-55},{"t":7.875,"v":50},{"t":7.9,"v":-40},{"t":7.925,"v":45},{"t":7.95,"v":-35},{"t":8.0,"v":30},{"t":8.05,"v":-25},{"t":8.1,"v":20},
{"t":8.16,"v":-15},{"t":8.22,"v":12},{"t":8.28,"v":-10},{"t":8.34,"v":12},{"t":8.4,"v":-9},{"t":8.46,"v":10},{"t":8.52,"v":-8},{"t":8.58,"v":10},{"t":8.64,"v":-9},{"t":8.7,"v":8},{"t":8.76,"v":-10},{"t":8.82,"v":12},{"t":8.88,"v":-10},{"t":8.94,"v":12},
{"t":9.0,"v":-40},{"t":9.025,"v":80},{"t":9.05,"v":-110},{"t":9.075,"v":140},{"t":9.1,"v":200},{"t":9.12,"v":-200},{"t":9.14,"v":190},{"t":9.16,"v":-180},{"t":9.185,"v":150},{"t":9.21,"v":-140},{"t":9.235,"v":120},{"t":9.26,"v":-130},{"t":9.285,"v":110},{"t":9.31,"v":-100},{"t":9.335,"v":90},{"t":9.36,"v":-85},{"t":9.385,"v":80},{"t":9.41,"v":-70},{"t":9.435,"v":60},{"t":9.46,"v":-55},{"t":9.485,"v":50},{"t":9.51,"v":-45},{"t":9.535,"v":40},{"t":9.56,"v":-35},{"t":9.6,"v":30},{"t":9.65,"v":-25},{"t":9.7,"v":20},
{"t":9.76,"v":-15},{"t":9.82,"v":12},{"t":9.88,"v":-10},{"t":9.94,"v":12},{"t":10.0,"v":-9},{"t":10.06,"v":10},{"t":10.12,"v":-8},{"t":10.18,"v":10},{"t":10.24,"v":-9},{"t":10.3,"v":8},{"t":10.36,"v":-10},{"t":10.42,"v":10},{"t":10.48,"v":-12},{"t":10.54,"v":12},
{"t":10.6,"v":-40},{"t":10.625,"v":70},{"t":10.65,"v":-100},{"t":10.675,"v":120},{"t":10.7,"v":-140},{"t":10.725,"v":150},{"t":10.75,"v":-160},{"t":10.765,"v":-200},{"t":10.78,"v":180},{"t":10.8,"v":-150},{"t":10.825,"v":140},{"t":10.85,"v":-160},{"t":10.875,"v":130},{"t":10.9,"v":-120},{"t":10.925,"v":110},{"t":10.95,"v":-130},{"t":10.975,"v":100},{"t":11.0,"v":-90},{"t":11.025,"v":85},{"t":11.05,"v":-80},{"t":11.075,"v":70},{"t":11.1,"v":-65},{"t":11.125,"v":60},{"t":11.15,"v":-55},{"t":11.175,"v":50},{"t":11.2,"v":-45},{"t":11.25,"v":40},{"t":11.3,"v":-35},{"t":11.35,"v":30},{"t":11.4,"v":-25},{"t":11.45,"v":20},
{"t":11.51,"v":-15},{"t":11.57,"v":12},{"t":11.63,"v":-10},{"t":11.69,"v":12},{"t":11.75,"v":-9},{"t":11.81,"v":10},{"t":11.87,"v":-8},{"t":11.93,"v":10},{"t":11.99,"v":-9},{"t":12.05,"v":8},{"t":12.11,"v":-10},{"t":12.17,"v":12},
{"t":12.23,"v":-30},{"t":12.255,"v":60},{"t":12.28,"v":-90},{"t":12.305,"v":110},{"t":12.33,"v":-120},{"t":12.355,"v":130},{"t":12.38,"v":-140},{"t":12.405,"v":150},{"t":12.43,"v":-130},{"t":12.455,"v":140},{"t":12.48,"v":-150},{"t":12.505,"v":160},{"t":12.53,"v":-170},{"t":12.55,"v":200},{"t":12.565,"v":-200},{"t":12.58,"v":170},{"t":12.605,"v":-120},{"t":12.63,"v":110},{"t":12.655,"v":-100},{"t":12.68,"v":90},{"t":12.705,"v":-85},{"t":12.73,"v":70},{"t":12.755,"v":-65},{"t":12.78,"v":60},{"t":12.8,"v":-55},{"t":12.85,"v":50},{"t":12.9,"v":-45},{"t":12.95,"v":50},{"t":13.0,"v":-40},{"t":13.05,"v":30},{"t":13.1,"v":-20},
{"t":13.16,"v":15},{"t":13.22,"v":-12},{"t":13.28,"v":10},{"t":13.34,"v":-12},{"t":13.4,"v":9},{"t":13.46,"v":-10},{"t":13.52,"v":8},{"t":13.58,"v":-10},{"t":13.64,"v":9},{"t":13.7,"v":-8},{"t":13.76,"v":10},{"t":13.82,"v":-12},{"t":13.88,"v":15},
{"t":13.92,"v":-40},{"t":13.945,"v":70},{"t":13.97,"v":-100},{"t":13.995,"v":130},{"t":14.02,"v":-140},{"t":14.045,"v":160},{"t":14.07,"v":-150},{"t":14.095,"v":180},{"t":14.12,"v":-160},{"t":14.145,"v":140},{"t":14.17,"v":-170},{"t":14.195,"v":150},{"t":14.22,"v":-180},{"t":14.245,"v":200},{"t":14.26,"v":-200},{"t":14.275,"v":190},{"t":14.29,"v":-200},{"t":14.31,"v":170},{"t":14.335,"v":-150},{"t":14.36,"v":130},{"t":14.385,"v":-120},{"t":14.41,"v":110},{"t":14.435,"v":-100},{"t":14.46,"v":90},{"t":14.485,"v":-80},{"t":14.51,"v":70},{"t":14.535,"v":-60},{"t":14.56,"v":55},{"t":14.6,"v":-50},{"t":14.65,"v":45},{"t":14.7,"v":-35},{"t":14.75,"v":30},{"t":14.8,"v":-25},
{"t":14.86,"v":20},{"t":14.92,"v":-15},{"t":14.98,"v":12},{"t":15.04,"v":-10},{"t":15.1,"v":12},{"t":15.16,"v":-9},{"t":15.22,"v":10},{"t":15.28,"v":-8},{"t":15.34,"v":10},{"t":15.4,"v":-9},{"t":15.46,"v":8},{"t":15.52,"v":-12},
{"t":15.56,"v":30},{"t":15.585,"v":-60},{"t":15.61,"v":90},{"t":15.635,"v":-100},{"t":15.66,"v":130},{"t":15.685,"v":-110},{"t":15.7,"v":200},{"t":15.715,"v":-140},{"t":15.74,"v":120},{"t":15.765,"v":-130},{"t":15.79,"v":100},{"t":15.815,"v":-110},{"t":15.84,"v":90},{"t":15.865,"v":-95},{"t":15.89,"v":80},{"t":15.915,"v":-85},{"t":15.94,"v":70},{"t":15.965,"v":-75},{"t":15.99,"v":60},{"t":16.015,"v":-70},{"t":16.04,"v":55},{"t":16.065,"v":-60},{"t":16.09,"v":50},{"t":16.115,"v":-45},{"t":16.14,"v":40},{"t":16.165,"v":-50},{"t":16.19,"v":45},{"t":16.215,"v":-35},{"t":16.24,"v":30},{"t":16.29,"v":-30},{"t":16.34,"v":35},{"t":16.39,"v":-25},{"t":16.44,"v":20},{"t":16.5,"v":-15},
{"t":16.56,"v":10},{"t":16.62,"v":-8},{"t":16.68,"v":10},{"t":16.74,"v":-7},{"t":16.8,"v":8},{"t":16.86,"v":-6},{"t":16.92,"v":7},{"t":16.98,"v":-6},{"t":17.04,"v":8},{"t":17.1,"v":-7},{"t":17.16,"v":6},{"t":17.22,"v":-5},{"t":17.28,"v":6},{"t":17.34,"v":-5},{"t":17.4,"v":4},{"t":17.47,"v":-3},{"t":17.5,"v":0}]},
"mark":{"type":"line","color":"#000080","strokeWidth":1.2,"clip":true},
"encoding":{"x":{"field":"t","type":"quantitative","scale":{"domain":[0,18],"nice":false},"axis":{"title":null,"values":[0,0.5,1,1.5,2,2.5,3,3.5,4,4.5,5,5.5,6,6.5,7,7.5,8,8.5,9,9.5,10,10.5,11,11.5,12,12.5,13,13.5,14,14.5,15,15.5,16,16.5,17,17.5,18],"labelExpr":"datum.value % 1 === 0 ? format(datum.value, 'd') : ''"}},
"y":{"field":"v","type":"quantitative","scale":{"domain":[-200,200],"nice":false},"axis":{"title":"uV","values":[-200,-100,0,100,200]}}}},
{"title":{"text":"Semitendinosus","anchor":"start","frame":"group","dx":-59,"fontSize":16,"font":"Liberation Sans","fontWeight":"normal","baseline":"alphabetic","offset":-7,"color":"#000000"},
"width":598,"height":109,
"data":{"values":[{"t":0,"v":1},{"t":0.3,"v":-1},{"t":0.6,"v":1},{"t":0.85,"v":0},
{"t":0.9,"v":3},{"t":1.0,"v":-5},{"t":1.1,"v":6},{"t":1.2,"v":-8},{"t":1.25,"v":10},
{"t":1.28,"v":-12},{"t":1.31,"v":15},{"t":1.34,"v":-20},{"t":1.37,"v":25},{"t":1.4,"v":-22},{"t":1.43,"v":28},{"t":1.46,"v":-25},{"t":1.49,"v":20},{"t":1.52,"v":-18},{"t":1.55,"v":15},{"t":1.58,"v":-12},{"t":1.62,"v":10},{"t":1.66,"v":-8},
{"t":1.75,"v":6},{"t":1.85,"v":-5},{"t":1.95,"v":6},{"t":2.05,"v":-5},{"t":2.15,"v":4},{"t":2.25,"v":-5},{"t":2.35,"v":6},{"t":2.45,"v":-5},{"t":2.55,"v":6},{"t":2.65,"v":-8},{"t":2.72,"v":10},
{"t":2.75,"v":-12},{"t":2.78,"v":15},{"t":2.81,"v":-18},{"t":2.84,"v":20},{"t":2.87,"v":-22},{"t":2.9,"v":18},{"t":2.93,"v":-20},{"t":2.96,"v":22},{"t":2.99,"v":-18},{"t":3.02,"v":15},{"t":3.05,"v":-12},{"t":3.08,"v":14},{"t":3.11,"v":-10},{"t":3.15,"v":8},
{"t":3.25,"v":-6},{"t":3.35,"v":5},{"t":3.45,"v":-6},{"t":3.55,"v":5},{"t":3.65,"v":-4},{"t":3.75,"v":5},{"t":3.85,"v":-6},{"t":3.95,"v":5},{"t":4.05,"v":-6},{"t":4.15,"v":8},{"t":4.22,"v":-10},
{"t":4.25,"v":12},{"t":4.28,"v":-15},{"t":4.31,"v":18},{"t":4.34,"v":-22},{"t":4.37,"v":25},{"t":4.4,"v":-28},{"t":4.43,"v":30},{"t":4.46,"v":-25},{"t":4.48,"v":-150},{"t":4.5,"v":20},{"t":4.53,"v":-22},{"t":4.56,"v":18},{"t":4.59,"v":-15},{"t":4.62,"v":12},{"t":4.66,"v":-10},{"t":4.7,"v":8},
{"t":4.8,"v":-6},{"t":4.9,"v":5},{"t":5.0,"v":-6},{"t":5.1,"v":5},{"t":5.2,"v":-5},{"t":5.3,"v":6},{"t":5.4,"v":-5},{"t":5.5,"v":6},{"t":5.6,"v":-6},{"t":5.7,"v":5},{"t":5.8,"v":-8},{"t":5.87,"v":10},
{"t":5.9,"v":-12},{"t":5.93,"v":16},{"t":5.96,"v":-20},{"t":5.99,"v":24},{"t":6.02,"v":-22},{"t":6.05,"v":26},{"t":6.08,"v":-24},{"t":6.11,"v":22},{"t":6.14,"v":-25},{"t":6.17,"v":20},{"t":6.2,"v":-18},{"t":6.23,"v":15},{"t":6.26,"v":-12},{"t":6.3,"v":10},{"t":6.35,"v":-8},
{"t":6.45,"v":6},{"t":6.55,"v":-5},{"t":6.65,"v":6},{"t":6.75,"v":-5},{"t":6.85,"v":5},{"t":6.95,"v":-6},{"t":7.05,"v":5},{"t":7.15,"v":-6},{"t":7.25,"v":5},{"t":7.35,"v":-6},{"t":7.45,"v":8},{"t":7.52,"v":-10},
{"t":7.55,"v":14},{"t":7.58,"v":-18},{"t":7.61,"v":22},{"t":7.64,"v":-26},{"t":7.67,"v":30},{"t":7.7,"v":-28},{"t":7.73,"v":32},{"t":7.76,"v":-30},{"t":7.79,"v":28},{"t":7.82,"v":-25},{"t":7.85,"v":22},{"t":7.88,"v":-18},{"t":7.91,"v":15},{"t":7.95,"v":-12},{"t":8.0,"v":10},
{"t":8.1,"v":-6},{"t":8.2,"v":5},{"t":8.3,"v":-6},{"t":8.4,"v":5},{"t":8.5,"v":-5},{"t":8.6,"v":6},{"t":8.7,"v":-5},{"t":8.8,"v":6},{"t":8.9,"v":-6},{"t":9.0,"v":5},{"t":9.1,"v":-8},{"t":9.17,"v":10},
{"t":9.2,"v":-14},{"t":9.23,"v":18},{"t":9.26,"v":-22},{"t":9.29,"v":25},{"t":9.32,"v":-24},{"t":9.35,"v":28},{"t":9.38,"v":-26},{"t":9.41,"v":24},{"t":9.44,"v":-22},{"t":9.47,"v":20},{"t":9.5,"v":-18},{"t":9.53,"v":15},{"t":9.56,"v":-12},{"t":9.6,"v":10},{"t":9.65,"v":-8},
{"t":9.75,"v":6},{"t":9.85,"v":-5},{"t":9.95,"v":6},{"t":10.05,"v":-5},{"t":10.15,"v":5},{"t":10.25,"v":-6},{"t":10.35,"v":5},{"t":10.45,"v":-6},{"t":10.55,"v":8},{"t":10.62,"v":-10},
{"t":10.65,"v":14},{"t":10.68,"v":-18},{"t":10.71,"v":22},{"t":10.74,"v":-25},{"t":10.77,"v":30},{"t":10.8,"v":-35},{"t":10.83,"v":40},{"t":10.86,"v":-45},{"t":10.88,"v":90},{"t":10.9,"v":-60},{"t":10.93,"v":35},{"t":10.96,"v":-30},{"t":10.99,"v":28},{"t":11.02,"v":-25},{"t":11.05,"v":20},{"t":11.08,"v":-16},{"t":11.11,"v":12},{"t":11.15,"v":-10},
{"t":11.25,"v":6},{"t":11.35,"v":-5},{"t":11.45,"v":6},{"t":11.55,"v":-5},{"t":11.65,"v":5},{"t":11.75,"v":-6},{"t":11.85,"v":5},{"t":11.95,"v":-6},{"t":12.05,"v":5},{"t":12.15,"v":-6},{"t":12.25,"v":5},{"t":12.35,"v":-8},{"t":12.42,"v":10},
{"t":12.45,"v":-14},{"t":12.48,"v":18},{"t":12.51,"v":-22},{"t":12.54,"v":26},{"t":12.57,"v":-30},{"t":12.6,"v":35},{"t":12.63,"v":-40},{"t":12.66,"v":45},{"t":12.68,"v":60},{"t":12.7,"v":-80},{"t":12.73,"v":40},{"t":12.76,"v":-35},{"t":12.79,"v":30},{"t":12.82,"v":-28},{"t":12.85,"v":22},{"t":12.88,"v":-18},{"t":12.91,"v":14},{"t":12.95,"v":-10},
{"t":13.05,"v":6},{"t":13.15,"v":-5},{"t":13.25,"v":6},{"t":13.35,"v":-5},{"t":13.45,"v":5},{"t":13.55,"v":-6},{"t":13.65,"v":5},{"t":13.75,"v":-6},{"t":13.85,"v":5},{"t":13.95,"v":-8},{"t":14.02,"v":10},
{"t":14.05,"v":-14},{"t":14.08,"v":18},{"t":14.11,"v":-22},{"t":14.14,"v":26},{"t":14.17,"v":-30},{"t":14.2,"v":34},{"t":14.23,"v":-32},{"t":14.26,"v":35},{"t":14.29,"v":-30},{"t":14.32,"v":28},{"t":14.35,"v":-25},{"t":14.38,"v":22},{"t":14.41,"v":-20},{"t":14.44,"v":18},{"t":14.47,"v":-15},{"t":14.5,"v":12},{"t":14.55,"v":-10},
{"t":14.65,"v":6},{"t":14.75,"v":-5},{"t":14.85,"v":6},{"t":14.95,"v":-5},{"t":15.05,"v":5},{"t":15.15,"v":-6},{"t":15.25,"v":5},{"t":15.35,"v":-6},{"t":15.45,"v":5},{"t":15.55,"v":-8},{"t":15.62,"v":10},
{"t":15.65,"v":-12},{"t":15.68,"v":16},{"t":15.71,"v":-20},{"t":15.74,"v":24},{"t":15.77,"v":-28},{"t":15.8,"v":30},{"t":15.83,"v":-28},{"t":15.86,"v":26},{"t":15.89,"v":-24},{"t":15.92,"v":22},{"t":15.95,"v":-25},{"t":15.98,"v":20},{"t":16.01,"v":-16},{"t":16.04,"v":14},{"t":16.08,"v":-12},{"t":16.12,"v":10},{"t":16.16,"v":-8},
{"t":16.25,"v":6},{"t":16.35,"v":-5},{"t":16.45,"v":6},{"t":16.55,"v":-5},{"t":16.65,"v":5},{"t":16.75,"v":-6},{"t":16.85,"v":5},{"t":16.95,"v":-5},{"t":17.05,"v":6},{"t":17.15,"v":-5},{"t":17.25,"v":5},{"t":17.35,"v":-4},{"t":17.45,"v":3},{"t":17.5,"v":0}]},
"mark":{"type":"line","color":"#000080","strokeWidth":1.3,"clip":true},
"encoding":{"x":{"field":"t","type":"quantitative","scale":{"domain":[0,18],"nice":false},"axis":{"title":null,"values":[0,0.5,1,1.5,2,2.5,3,3.5,4,4.5,5,5.5,6,6.5,7,7.5,8,8.5,9,9.5,10,10.5,11,11.5,12,12.5,13,13.5,14,14.5,15,15.5,16,16.5,17,17.5,18],"labelExpr":"datum.value % 1 === 0 ? format(datum.value, 'd') : ''"}},
"y":{"field":"v","type":"quantitative","scale":{"domain":[-200,200],"nice":false},"axis":{"title":"uV","values":[-200,-100,0,100,200]}}}},
{"title":{"text":"Angle","anchor":"start","frame":"group","dx":-52,"fontSize":16,"font":"Liberation Sans","fontWeight":"normal","baseline":"alphabetic","offset":-7,"color":"#000000"},
"width":598,"height":109,
"layer":[
{"data":{"values":[{"t":1.42,"k":"peak"},{"t":2.9,"k":"peak"},{"t":4.38,"k":"peak"},{"t":6.12,"k":"peak"},{"t":7.79,"k":"peak"},{"t":9.42,"k":"peak"},{"t":11.07,"k":"peak"},{"t":12.71,"k":"peak"},{"t":14.35,"k":"peak"},{"t":16.07,"k":"peak"},{"t":2.39,"k":"trough"},{"t":3.9,"k":"trough"},{"t":5.47,"k":"trough"},{"t":7.22,"k":"trough"},{"t":8.9,"k":"trough"},{"t":10.56,"k":"trough"},{"t":12.17,"k":"trough"},{"t":13.87,"k":"trough"},{"t":15.47,"k":"trough"},{"t":17.25,"k":"trough"}]},
"mark":{"type":"rule","strokeWidth":1.3},
"encoding":{"x":{"field":"t","type":"quantitative","scale":{"domain":[0,18],"nice":false}},"color":{"field":"k","type":"nominal","scale":{"domain":["peak","trough"],"range":["#008000","#ff0000"]},"legend":null}}},
{"data":{"values":[{"t":0,"a":-78},{"t":0.3,"a":-79},{"t":0.6,"a":-78},{"t":0.9,"a":-79},{"t":1.1,"a":-78},{"t":1.2,"a":-74},{"t":1.28,"a":-55},{"t":1.36,"a":-40},{"t":1.45,"a":-34},{"t":1.55,"a":-36},{"t":1.7,"a":-45},{"t":1.85,"a":-55},{"t":2.0,"a":-64},{"t":2.15,"a":-72},{"t":2.3,"a":-80},{"t":2.42,"a":-83},{"t":2.55,"a":-78},{"t":2.7,"a":-55},{"t":2.8,"a":-38},{"t":2.92,"a":-33},{"t":3.05,"a":-37},{"t":3.2,"a":-48},{"t":3.4,"a":-56},{"t":3.6,"a":-65},{"t":3.75,"a":-76},{"t":3.9,"a":-83},{"t":4.0,"a":-80},{"t":4.15,"a":-58},{"t":4.28,"a":-38},{"t":4.4,"a":-32},{"t":4.52,"a":-36},{"t":4.7,"a":-48},{"t":4.9,"a":-55},{"t":5.1,"a":-62},{"t":5.3,"a":-75},{"t":5.47,"a":-82},{"t":5.6,"a":-79},{"t":5.8,"a":-60},{"t":5.95,"a":-40},{"t":6.12,"a":-35},{"t":6.3,"a":-42},{"t":6.5,"a":-55},{"t":6.7,"a":-58},{"t":6.9,"a":-66},{"t":7.05,"a":-78},{"t":7.22,"a":-84},{"t":7.38,"a":-78},{"t":7.55,"a":-55},{"t":7.7,"a":-35},{"t":7.8,"a":-33},{"t":7.9,"a":-36},{"t":8.0,"a":-36},{"t":8.15,"a":-44},{"t":8.4,"a":-48},{"t":8.6,"a":-60},{"t":8.75,"a":-72},{"t":8.9,"a":-90},{"t":9.05,"a":-84},{"t":9.2,"a":-60},{"t":9.32,"a":-40},{"t":9.42,"a":-34},{"t":9.55,"a":-40},{"t":9.75,"a":-55},{"t":10.0,"a":-62},{"t":10.25,"a":-72},{"t":10.42,"a":-82},{"t":10.56,"a":-86},{"t":10.7,"a":-78},{"t":10.85,"a":-50},{"t":10.97,"a":-34},{"t":11.07,"a":-32},{"t":11.2,"a":-35},{"t":11.3,"a":-45},{"t":11.5,"a":-53},{"t":11.7,"a":-60},{"t":11.9,"a":-70},{"t":12.05,"a":-82},{"t":12.17,"a":-88},{"t":12.3,"a":-82},{"t":12.45,"a":-58},{"t":12.58,"a":-38},{"t":12.71,"a":-32},{"t":12.85,"a":-40},{"t":13.0,"a":-53},{"t":13.2,"a":-59},{"t":13.4,"a":-63},{"t":13.6,"a":-76},{"t":13.75,"a":-84},{"t":13.87,"a":-88},{"t":14.0,"a":-80},{"t":14.12,"a":-55},{"t":14.25,"a":-34},{"t":14.35,"a":-31},{"t":14.5,"a":-35},{"t":14.65,"a":-46},{"t":14.9,"a":-56},{"t":15.1,"a":-66},{"t":15.3,"a":-80},{"t":15.47,"a":-90},{"t":15.62,"a":-84},{"t":15.8,"a":-58},{"t":15.95,"a":-37},{"t":16.07,"a":-34},{"t":16.2,"a":-45},{"t":16.4,"a":-58},{"t":16.6,"a":-59},{"t":16.8,"a":-60},{"t":16.95,"a":-68},{"t":17.1,"a":-82},{"t":17.25,"a":-91},{"t":17.4,"a":-84},{"t":17.5,"a":-80}]},
"mark":{"type":"line","color":"#000080","strokeWidth":1.8,"interpolate":"monotone"},
"encoding":{"x":{"field":"t","type":"quantitative","scale":{"domain":[0,18],"nice":false},"axis":{"title":"Time","values":[0,0.5,1,1.5,2,2.5,3,3.5,4,4.5,5,5.5,6,6.5,7,7.5,8,8.5,9,9.5,10,10.5,11,11.5,12,12.5,13,13.5,14,14.5,15,15.5,16,16.5,17,17.5,18],"labelExpr":"datum.value % 1 === 0 ? format(datum.value, 'd') : ''"}},
"y":{"field":"a","type":"quantitative","scale":{"domain":[-120,0],"nice":false},"axis":{"title":"deg","values":[-120,-100,-80,-60,-40,-20,0]}}}}
]}
]}
]
}
